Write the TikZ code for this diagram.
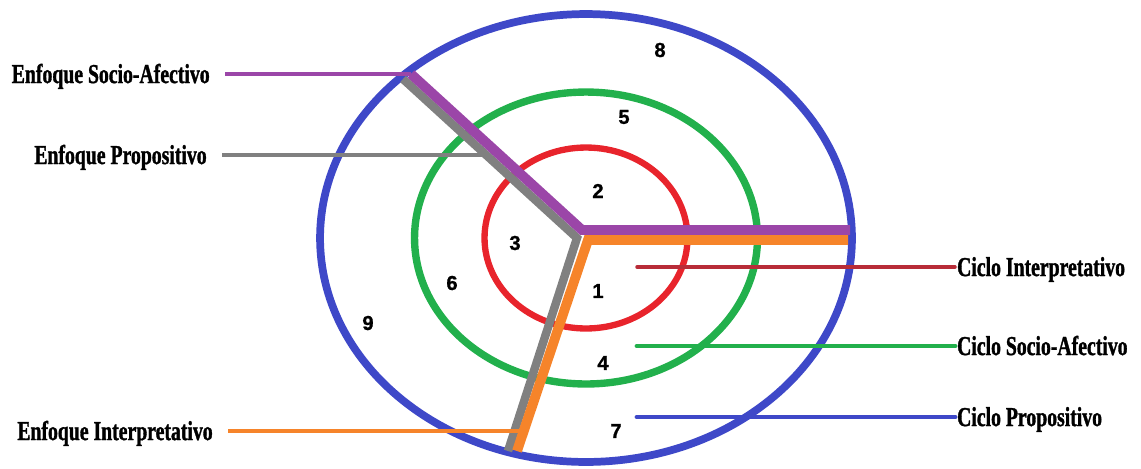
\documentclass[tikz,border=0pt]{standalone}
\usepackage{fontspec}
\usepackage{tikz}
\usetikzlibrary{shapes.geometric}

\newfontfamily\labelfont[FakeStretch=0.72, BoldFeatures={FakeBold=1.2}]{Liberation Serif}
\newfontfamily\numfont[BoldFeatures={FakeBold=1}]{Liberation Sans}

\definecolor{cycleblue}{RGB}{62,72,200}
\definecolor{cyclegreen}{RGB}{34,176,76}
\definecolor{cyclered}{RGB}{232,36,44}
\definecolor{thinred}{RGB}{184,44,56}
\definecolor{socio}{RGB}{155,70,168}
\definecolor{prop}{RGB}{128,128,128}
\definecolor{interp}{RGB}{246,132,42}

\tikzset{
  cycle/.style={draw, ellipse, inner sep=0pt},
  band/.style={line width=5.6pt, line join=miter},
  stub/.style={line width=2.8pt, line cap=round},
  leftlabel/.style={anchor=east, font=\labelfont\bfseries\fontsize{15.6pt}{16pt}\selectfont,
    text height=10.3pt, text depth=0pt, inner ysep=0pt, inner xsep=0.3cm},
  rightlabel/.style={anchor=west, font=\labelfont\bfseries\fontsize{15.6pt}{16pt}\selectfont,
    text height=10.3pt, text depth=0pt, inner ysep=0pt, inner xsep=1pt},
  num/.style={font=\numfont\bfseries\fontsize{11.5pt}{12pt}\selectfont, inner sep=0pt}
}

\begin{document}
\begin{tikzpicture}[x=0.02cm, y=-0.02cm]
        \useasboundingbox (0,0) rectangle (1141,468);

        % Define coordinates
        \coordinate (centre) at (586,238);
        \coordinate (socio_corner) at (411,74);
        \coordinate (socio_hub) at (582,230);
        \coordinate (socio_end) at (850,230);
        \coordinate (prop_top) at (403,79);
        \coordinate (prop_hub) at (577,238);
        \coordinate (prop_end) at (508,451);
        \coordinate (prop_join) at (485,155);
        \coordinate (interp_end) at (848,240);
        \coordinate (interp_hub) at (588,240);
        \coordinate (interp_foot) at (517,451);
        \coordinate (interp_join) at (523,431);
        \coordinate (ci_start) at (637,267);
        \coordinate (cs_start) at (637,346);
        \coordinate (cp_start) at (637,417);

        % Draw the three cycles
        \node[cycle, draw=cycleblue, line width=4.4pt, minimum width=10.64cm, minimum height=8.96cm] (outer) at (centre) {};
        \node[cycle, draw=cyclegreen, line width=4.2pt, minimum width=6.86cm, minimum height=5.84cm] (middle) at (centre) {};
        \node[cycle, draw=cyclered, line width=3.6pt, minimum width=4.06cm, minimum height=3.62cm] (inner) at (centre) {};

        % Numbers of the sectors
        \node[num] (n1) at (598,291) {1};
        \node[num] (n2) at (598,191) {2};
        \node[num] (n3) at (515,243) {3};
        \node[num] (n4) at (603,363) {4};
        \node[num] (n5) at (624,117) {5};
        \node[num] (n6) at (452,283) {6};
        \node[num] (n7) at (616,431) {7};
        \node[num] (n8) at (660,50) {8};
        \node[num] (n9) at (368,323) {9};

        % Labels on the left (approaches)
        \node[leftlabel] (enf_socio) at (225,74) {Enfoque Socio-Afectivo};
        \node[leftlabel] (enf_prop) at (222,155) {Enfoque Propositivo};
        \node[leftlabel] (enf_interp) at (228,431) {Enfoque Interpretativo};

        % Labels on the right (cycles)
        \node[rightlabel] (ciclo_interp) at (955,267) {Ciclo Interpretativo};
        \node[rightlabel] (ciclo_socio) at (955,346) {Ciclo Socio-Afectivo};
        \node[rightlabel] (ciclo_prop) at (955,417) {Ciclo Propositivo};

        % Thin leaders to the cycle labels
        \draw[stub, thinred, line width=2pt] (ci_start) -- (ciclo_interp.west);
        \draw[stub, cyclegreen] (cs_start) -- (ciclo_socio.west);
        \draw[stub, cycleblue] (cp_start) -- (ciclo_prop.west);

        % Draw the approach bands
        \draw[band, prop, line width=4.8pt] (prop_top) -- (prop_hub) -- (prop_end);
        \draw[band, socio] (socio_corner) -- (socio_hub) -- (socio_end);
        \draw[band, interp] (interp_end) -- (interp_hub) -- (interp_foot);

        % Leaders to the approach labels
        \draw[stub, socio, line cap=butt] (enf_socio.east) -- (socio_corner);
        \draw[stub, prop, line cap=butt] (enf_prop.east) -- (prop_join);
        \draw[stub, interp, line cap=butt] (enf_interp.east) -- (interp_join);
      \end{tikzpicture}
\end{document}
